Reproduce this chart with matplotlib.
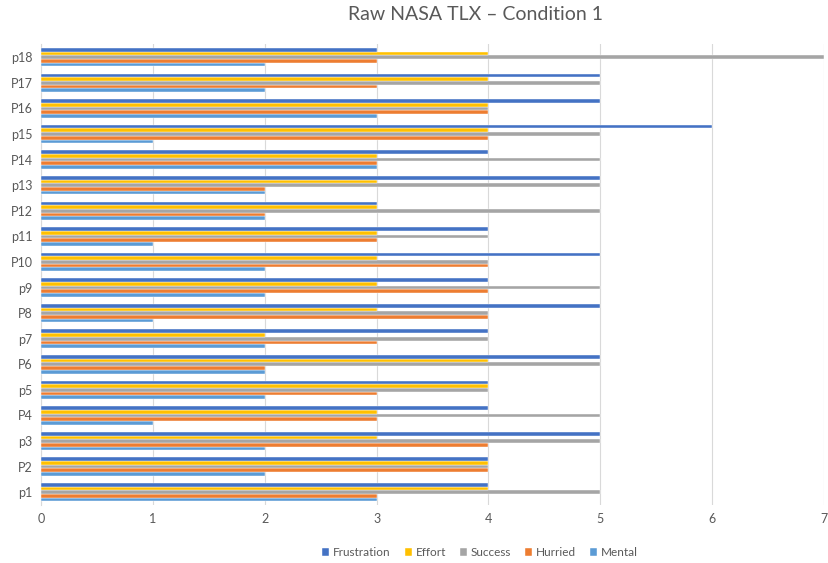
import matplotlib.pyplot as plt
import numpy as np

plt.rcParams['font.family'] = ['Lato', 'DejaVu Sans']

participants = ['p1', 'P2', 'p3', 'P4', 'p5', 'P6', 'p7', 'P8', 'p9', 'P10',
                'p11', 'P12', 'p13', 'P14', 'p15', 'P16', 'P17', 'p18']

# TLX ratings per participant, same order as above
mental = [3, 2, 2, 1, 2, 2, 2, 1, 2, 2, 1, 2, 2, 3, 1, 3, 2, 2]
hurried = [3, 4, 4, 3, 3, 2, 3, 4, 4, 4, 3, 2, 2, 3, 4, 4, 3, 3]
success = [5, 4, 5, 5, 4, 5, 4, 4, 5, 4, 4, 5, 5, 5, 5, 4, 5, 7]
effort = [4, 4, 3, 3, 4, 4, 2, 3, 3, 3, 3, 3, 3, 3, 4, 4, 4, 4]
frustration = [4, 4, 5, 4, 4, 5, 4, 5, 4, 5, 4, 3, 5, 4, 6, 5, 5, 3]

series = [
    ('Mental', mental, '#5B9BD5'),
    ('Hurried', hurried, '#ED7D31'),
    ('Success', success, '#A5A5A5'),
    ('Effort', effort, '#FFC000'),
    ('Frustration', frustration, '#4472C4'),
]

fig = plt.figure(figsize=(8.29, 5.63), dpi=100)
ax = fig.add_axes([0.0495, 0.103, 0.9445, 0.818])

y = np.arange(len(participants))
h = 0.144
handles = {}
for i, (name, vals, color) in enumerate(series):
    bars = ax.barh(y + (i - 2) * h, vals, height=h, color=color,
                   edgecolor='white', linewidth=0.3, label=name, zorder=3)
    handles[name] = bars

ax.set_xlim(0, 7)
ax.set_ylim(-0.5, len(participants) - 0.5)
ax.set_yticks(y)
ax.set_yticklabels(participants)
ax.set_xticks(range(8))
ax.grid(axis='x', color='#D9D9D9', linewidth=0.8, zorder=0)
ax.tick_params(length=0, labelsize=9, colors='#595959', pad=6)
for side in ['top', 'right', 'bottom']:
    ax.spines[side].set_visible(False)
ax.spines['left'].set_color('#D9D9D9')

fig.text(0.574, 0.975, 'Raw NASA TLX \u2013 Condition 1', ha='center', va='center',
         fontsize=14, color='#595959')

order = ['Frustration', 'Effort', 'Success', 'Hurried', 'Mental']
fig.legend([handles[n] for n in order], order, loc='center',
           bbox_to_anchor=(0.579, 0.018), ncol=5, frameon=False,
           fontsize=8.5, handlelength=0.6, handleheight=0.6,
           handletextpad=0.3, columnspacing=1.2, labelcolor='#595959')

fig.savefig('out.png', dpi=100)
